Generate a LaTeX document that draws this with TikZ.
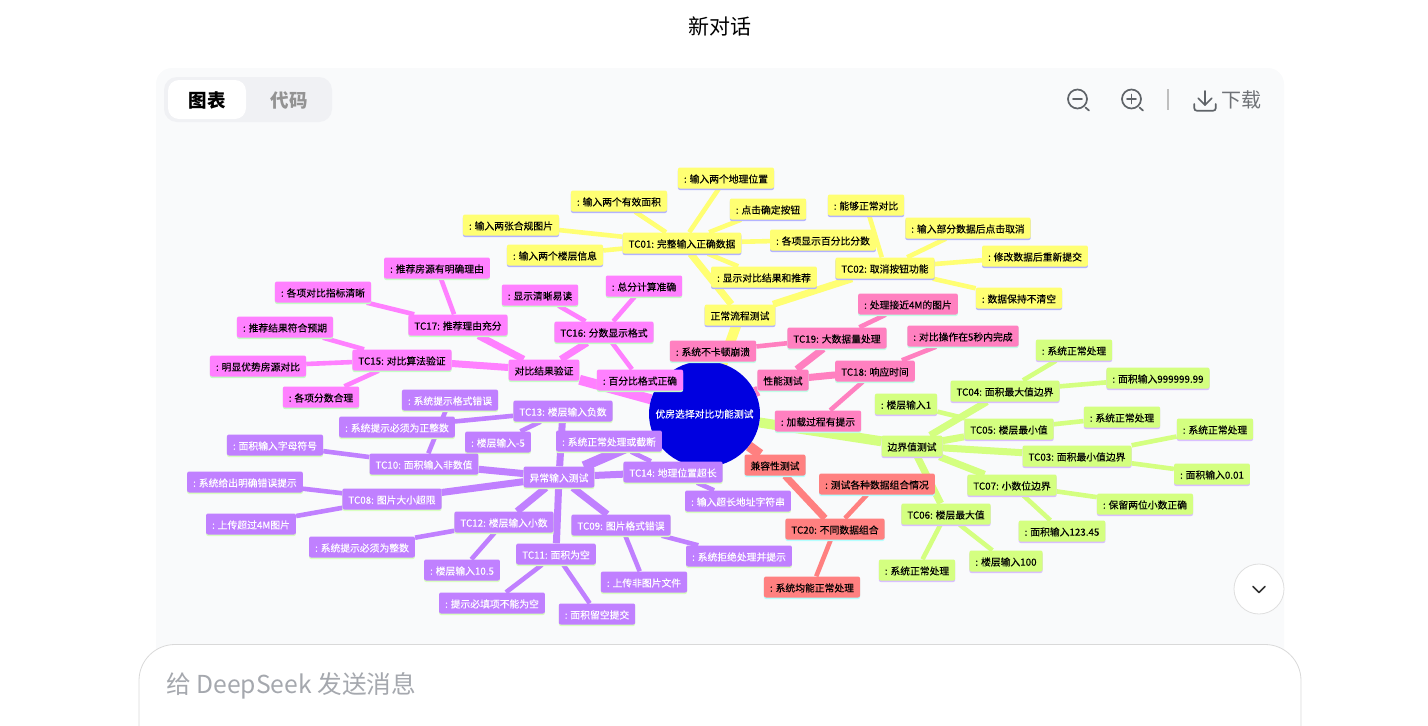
\documentclass[tikz,border=0pt]{standalone}
\usepackage{fontspec}
\setmainfont{Noto Sans CJK SC}
\newfontfamily\mapfont[FakeBold=0.12]{Noto Sans CJK SC}
\usetikzlibrary{shapes.geometric,shadows,backgrounds}
\definecolor{yelfill}{HTML}{FFFF73}
\definecolor{yelline}{HTML}{B3B3FF}
\definecolor{hotfill}{HTML}{FF80C0}
\definecolor{hotline}{HTML}{BFFFE6}
\definecolor{pinfill}{HTML}{FF80FF}
\definecolor{pinline}{HTML}{C4FFC4}
\definecolor{purfill}{HTML}{C080FF}
\definecolor{purline}{HTML}{D9FFBF}
\definecolor{salfill}{HTML}{FF8080}
\definecolor{salline}{HTML}{B3FFFF}
\definecolor{grnfill}{HTML}{D4FF80}
\definecolor{grnline}{HTML}{D9BFFF}
\definecolor{rootblue}{HTML}{0000E0}
\definecolor{panelbg}{HTML}{F9FAFB}
\definecolor{tabbg}{HTML}{F0F1F4}
\definecolor{icongray}{HTML}{5F6368}
\definecolor{hintgray}{HTML}{A5A8AE}
\tikzset{
  mapnode/.style={rounded corners=2pt,yshift=1pt,minimum height=21pt,inner xsep=6pt,inner ysep=0pt,
    text height=10.4pt,text depth=1pt,font=\mapfont\fontsize{9.8}{12}\selectfont},
  yel/.style={mapnode,fill=yelfill,general shadow={shadow xshift=0pt,shadow yshift=-1.5pt,fill=yelline}},
  hot/.style={mapnode,fill=hotfill,general shadow={shadow xshift=0pt,shadow yshift=-1.5pt,fill=hotline}},
  pin/.style={mapnode,fill=pinfill,general shadow={shadow xshift=0pt,shadow yshift=-1.5pt,fill=pinline}},
  pur/.style={mapnode,fill=purfill,text=white,general shadow={shadow xshift=0pt,shadow yshift=-1.5pt,fill=purline}},
  sal/.style={mapnode,fill=salfill,general shadow={shadow xshift=0pt,shadow yshift=-1.5pt,fill=salline}},
  grn/.style={mapnode,fill=grnfill,general shadow={shadow xshift=0pt,shadow yshift=-1.5pt,fill=grnline}},
  rootline/.style={line width=10pt},
  mainline/.style={line width=7pt},
  leafline/.style={line width=4.6pt},
  icon/.style={icongray,line width=1.7pt,line cap=round,line join=round}
}
\begin{document}
\begin{tikzpicture}[x=1pt,y=-1pt]
\useasboundingbox (0,0) rectangle (1428,726);
\begin{scope}[on background layer]
  \fill[panelbg,rounded corners=16pt] (156,68) rectangle (1284,680);
  \fill[tabbg,rounded corners=13pt] (164,77) rectangle (332,122);
  \fill[white,rounded corners=11pt] (168,80) rectangle (246,119);
\end{scope}
\node[font=\fontsize{21}{25}\selectfont] (pagetitle) at (720,26) {新对话};
\node[font=\fontsize{18.5}{22}\bfseries\selectfont] (tabchart) at (207,100) {图表};
\node[font=\fontsize{18.5}{22}\bfseries\selectfont,text=gray!85] (tabcode) at (289,100) {代码};
\node[font=\fontsize{20}{24}\selectfont,text=icongray!90,inner sep=0pt] (savetext) at (1241,100) {下载};
\draw[icon] (1077.5,99) circle (9.5);
\draw[icon] (1073,99) -- (1082,99);
\draw[icon] (1085.5,107.5) -- (1089,110.5);
\draw[icon] (1131.5,99) circle (9.5);
\draw[icon] (1127,99) -- (1136,99);
\draw[icon] (1131.5,94.5) -- (1131.5,103.5);
\draw[icon] (1139.5,107.5) -- (1143,110.5);
\draw[gray!50,line width=1.5pt] (1168,89) -- (1168,110);
\draw[icon] (1205,91) -- (1205,105);
\draw[icon] (1198.3,98.3) -- (1205,105) -- (1211.7,98.3);
\draw[icon,rounded corners=2.5pt] (1194.3,104) -- (1194.3,110.7) -- (1215.7,110.7) -- (1215.7,104);

\node[ellipse,fill=rootblue,inner sep=0pt,minimum width=111pt,minimum height=106pt,
  label={[text=white,font=\mapfont\fontsize{9.8}{12}\selectfont]center:优房选择对比功能测试}] (root) at (704.5,414) {};

\node[yel] (normal) at (740,316) {正常流程测试};
\node[yel] (tc01) at (682,244) {TC01: 完整输入正确数据};
\node[yel] (a1) at (726,179) {: 输入两个地理位置};
\node[yel] (a2) at (619,202) {: 输入两个有效面积};
\node[yel] (a3) at (511,226) {: 输入两张合规图片};
\node[yel] (a4) at (555,256) {: 输入两个楼层信息};
\node[yel] (a5) at (768,210) {: 点击确定按钮};
\node[yel] (a6) at (823,241) {: 各项显示百分比分数};
\node[yel] (a7) at (764,278) {: 显示对比结果和推荐};
\node[yel] (tc02) at (885,269) {TC02: 取消按钮功能};
\node[yel] (b1) at (866,206) {: 能够正常对比};
\node[yel] (b2) at (968,229) {: 输入部分数据后点击取消};
\node[yel] (b3) at (1035,257) {: 修改数据后重新提交};
\node[yel] (b4) at (1019,299) {: 数据保持不清空};

\node[hot] (perf) at (783,381) {性能测试};
\node[hot] (tc19) at (837,339) {TC19: 大数据量处理};
\node[hot] (c1) at (908,305) {: 处理接近4M的图片};
\node[hot] (c2) at (713,352) {: 系统不卡顿崩溃};
\node[hot] (tc18) at (875,372) {TC18: 响应时间};
\node[hot] (d1) at (963,337) {: 对比操作在5秒内完成};
\node[hot] (d2) at (818,422) {: 加载过程有提示};

\node[pin] (result) at (544,371) {对比结果验证};
\node[pin] (tc16) at (604,333) {TC16: 分数显示格式};
\node[pin] (e1) at (540,296) {: 显示清晰易读};
\node[pin] (e2) at (644,287) {: 总分计算准确};
\node[pin] (e3) at (640,381) {: 百分比格式正确};
\node[pin] (tc17) at (458,326) {TC17: 推荐理由充分};
\node[pin] (f1) at (437,269) {: 推荐房源有明确理由};
\node[pin] (f2) at (323,293) {: 各项对比指标清晰};
\node[pin] (tc15) at (402,361) {TC15: 对比算法验证};
\node[pin] (g1) at (285,328) {: 推荐结果符合预期};
\node[pin] (g2) at (258,367) {: 明显优势房源对比};
\node[pin] (g3) at (321,398) {: 各项分数合理};

\node[pur] (abnormal) at (559,478) {异常输入测试};
\node[pur] (tc13) at (563,412) {TC13: 楼层输入负数};
\node[pur] (h1) at (397,428) {: 系统提示必须为正整数};
\node[pur] (h2) at (498,443) {: 楼层输入-5};
\node[pur] (tc14) at (673,473) {TC14: 地理位置超长};
\node[pur] (i1) at (609,442) {: 系统正常处理或截断};
\node[pur] (i2) at (738,502) {: 输入超长地址字符串};
\node[pur] (tc10) at (424,465) {TC10: 面积输入非数值};
\node[pur] (j1) at (450,401) {: 系统提示格式错误};
\node[pur] (j2) at (275,446) {: 面积输入字母符号};
\node[pur] (tc08) at (392,500) {TC08: 图片大小超限};
\node[pur] (k1) at (245,483) {: 系统给出明确错误提示};
\node[pur] (k2) at (251,525) {: 上传超过4M图片};
\node[pur] (tc12) at (504,523) {TC12: 楼层输入小数};
\node[pur] (l1) at (362,548) {: 系统提示必须为整数};
\node[pur] (l2) at (462,571) {: 楼层输入10.5};
\node[pur] (tc11) at (556,555) {TC11: 面积为空};
\node[pur] (m1) at (492,604) {: 提示必填项不能为空};
\node[pur] (m2) at (597,615) {: 面积留空提交};
\node[pur] (tc09) at (621,526) {TC09: 图片格式错误};
\node[pur] (n1) at (644,583) {: 上传非图片文件};
\node[pur] (n2) at (739,557) {: 系统拒绝处理并提示};

\node[sal] (compat) at (775,466) {兼容性测试};
\node[sal] (tc20) at (835,530) {TC20: 不同数据组合};
\node[sal] (o1) at (877,485) {: 测试各种数据组合情况};
\node[sal] (o2) at (812,588) {: 系统均能正常处理};

\node[grn] (bound) at (912,447) {边界值测试};
\node[grn] (tc04) at (1005,392) {TC04: 面积最大值边界};
\node[grn] (p1) at (1074,351) {: 系统正常处理};
\node[grn] (p2) at (1158,379) {: 面积输入999999.99};
\node[grn] (tc05) at (1009,430) {TC05: 楼层最小值};
\node[grn] (q1) at (906,405) {: 楼层输入1};
\node[grn] (q2) at (1122,418) {: 系统正常处理};
\node[grn] (tc03) at (1077,457) {TC03: 面积最小值边界};
\node[grn] (r1) at (1215,430) {: 系统正常处理};
\node[grn] (r2) at (1212,475) {: 面积输入0.01};
\node[grn] (tc07) at (1012,486) {TC07: 小数位边界};
\node[grn] (s1) at (1145,505) {: 保留两位小数正确};
\node[grn] (s2) at (1062,532) {: 面积输入123.45};
\node[grn] (tc06) at (946,515) {TC06: 楼层最大值};
\node[grn] (t1) at (917,571) {: 系统正常处理};
\node[grn] (t2) at (1006,562) {: 楼层输入100};

\begin{scope}[on background layer]
  \draw[rootline,yelfill] (root) -- (normal);
  \draw[rootline,hotfill] (root) -- (perf);
  \draw[rootline,pinfill] (root) -- (result);
  \draw[rootline,purfill] (root) -- (abnormal);
  \draw[rootline,salfill] (root) -- (compat);
  \draw[rootline,grnfill] (root) -- (bound);
  \draw[mainline,yelfill] (normal) -- (tc01);
  \draw[mainline,yelfill] (normal) -- (tc02);
  \draw[leafline,yelfill] (tc01) -- (a1);
  \draw[leafline,yelfill] (tc01) -- (a2);
  \draw[leafline,yelfill] (tc01) -- (a3);
  \draw[leafline,yelfill] (tc01) -- (a4);
  \draw[leafline,yelfill] (tc01) -- (a5);
  \draw[leafline,yelfill] (tc01) -- (a6);
  \draw[leafline,yelfill] (tc01) -- (a7);
  \draw[leafline,yelfill] (tc02) -- (b1);
  \draw[leafline,yelfill] (tc02) -- (b2);
  \draw[leafline,yelfill] (tc02) -- (b3);
  \draw[leafline,yelfill] (tc02) -- (b4);
  \draw[mainline,hotfill] (perf) -- (tc19);
  \draw[mainline,hotfill] (perf) -- (tc18);
  \draw[leafline,hotfill] (tc19) -- (c1);
  \draw[leafline,hotfill] (tc19) -- (c2);
  \draw[leafline,hotfill] (tc18) -- (d1);
  \draw[leafline,hotfill] (tc18) -- (d2);
  \draw[mainline,pinfill] (result) -- (tc15);
  \draw[mainline,pinfill] (result) -- (tc16);
  \draw[mainline,pinfill] (result) -- (tc17);
  \draw[leafline,pinfill] (tc16) -- (e1);
  \draw[leafline,pinfill] (tc16) -- (e2);
  \draw[leafline,pinfill] (tc16) -- (e3);
  \draw[leafline,pinfill] (tc17) -- (f1);
  \draw[leafline,pinfill] (tc17) -- (f2);
  \draw[leafline,pinfill] (tc15) -- (g1);
  \draw[leafline,pinfill] (tc15) -- (g2);
  \draw[leafline,pinfill] (tc15) -- (g3);
  \draw[mainline,purfill] (abnormal) -- (tc13);
  \draw[mainline,purfill] (abnormal) -- (tc14);
  \draw[mainline,purfill] (abnormal) -- (tc10);
  \draw[mainline,purfill] (abnormal) -- (tc08);
  \draw[mainline,purfill] (abnormal) -- (tc12);
  \draw[mainline,purfill] (abnormal) -- (tc11);
  \draw[mainline,purfill] (abnormal) -- (tc09);
  \draw[leafline,purfill] (tc13) -- (h1);
  \draw[leafline,purfill] (tc13) -- (h2);
  \draw[leafline,purfill] (tc14) -- (i1);
  \draw[leafline,purfill] (tc14) -- (i2);
  \draw[leafline,purfill] (tc10) -- (j1);
  \draw[leafline,purfill] (tc10) -- (j2);
  \draw[leafline,purfill] (tc08) -- (k1);
  \draw[leafline,purfill] (tc08) -- (k2);
  \draw[leafline,purfill] (tc12) -- (l1);
  \draw[leafline,purfill] (tc12) -- (l2);
  \draw[leafline,purfill] (tc11) -- (m1);
  \draw[leafline,purfill] (tc11) -- (m2);
  \draw[leafline,purfill] (tc09) -- (n1);
  \draw[leafline,purfill] (tc09) -- (n2);
  \draw[mainline,salfill] (compat) -- (tc20);
  \draw[leafline,salfill] (tc20) -- (o1);
  \draw[leafline,salfill] (tc20) -- (o2);
  \draw[mainline,grnfill] (bound) -- (tc04);
  \draw[mainline,grnfill] (bound) -- (tc05);
  \draw[mainline,grnfill] (bound) -- (tc03);
  \draw[mainline,grnfill] (bound) -- (tc07);
  \draw[mainline,grnfill] (bound) -- (tc06);
  \draw[leafline,grnfill] (tc04) -- (p1);
  \draw[leafline,grnfill] (tc04) -- (p2);
  \draw[leafline,grnfill] (tc05) -- (q1);
  \draw[leafline,grnfill] (tc05) -- (q2);
  \draw[leafline,grnfill] (tc03) -- (r1);
  \draw[leafline,grnfill] (tc03) -- (r2);
  \draw[leafline,grnfill] (tc07) -- (s1);
  \draw[leafline,grnfill] (tc07) -- (s2);
  \draw[leafline,grnfill] (tc06) -- (t1);
  \draw[leafline,grnfill] (tc06) -- (t2);
\end{scope}

\draw[fill=white,draw=gray!25,line width=.8pt] (1259,589) circle (25);
\draw[black!80,line width=1.6pt,line cap=round,line join=round] (1253,586.5) -- (1259,592.5) -- (1265,586.5);
\draw[fill=white,draw=gray!30,line width=.8pt,rounded corners=36pt] (139,740) -- (139,644.5) -- (1301,644.5) -- (1301,740);
\node[anchor=west,inner sep=0pt,text=hintgray,font=\fontsize{24.7}{28}\selectfont] (prompt) at (166,686) {给 DeepSeek 发送消息};
\end{tikzpicture}
\end{document}
